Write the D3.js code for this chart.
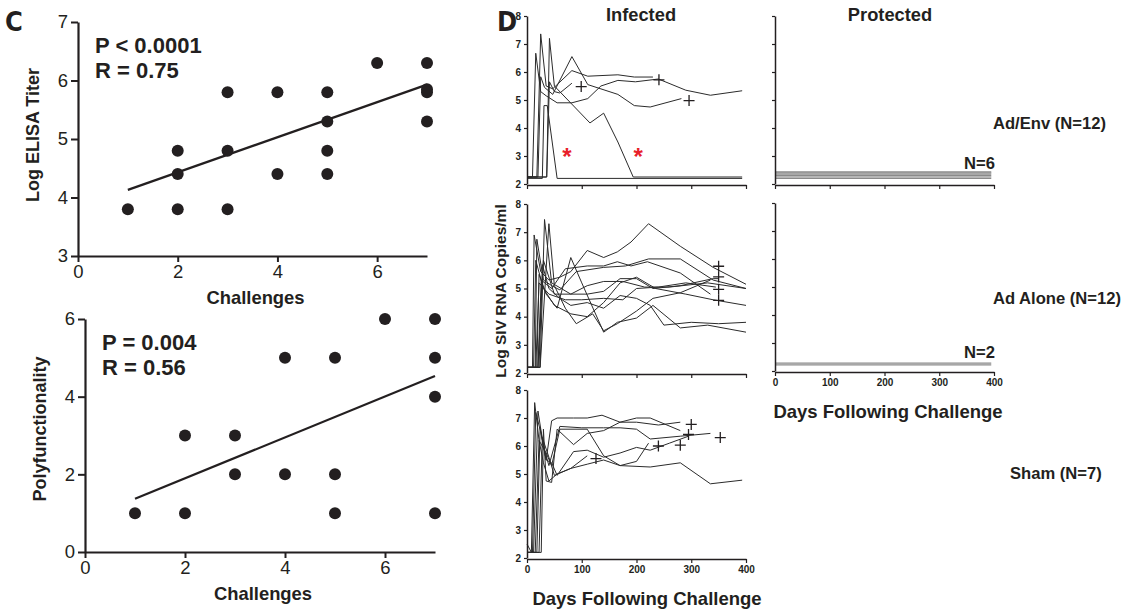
<!DOCTYPE html>
<html lang="en">
<head>
<meta charset="UTF-8">
<title>Challenges and viral load</title>
<script src="https://d3js.org/d3.v7.min.js"></script>
<style>
  body { margin: 0; background: #fff; }
  svg text { font-family: "Liberation Sans", Arial, sans-serif; fill: #231f20; }
  .bold { font-weight: bold; }
</style>
</head>
<body>
<div id="chart"></div>
<script>
// ---- panel C data: [challenges, value]
var elisaPoints = [[1,3.8],[2,4.8],[2,4.4],[2,3.8],[3,5.8],[3,4.8],[3,3.8],[4,5.8],[4,4.4],
  [5,5.8],[5,5.3],[5,4.8],[5,4.4],[6,6.3],[7,6.3],[7,5.85],[7,5.8],[7,5.3]];
var elisaFit = [[1,4.13],[7,5.93]];
var polyPoints = [[1,1],[2,3],[2,1],[3,3],[3,2],[4,5],[4,2],[5,5],[5,2],[5,1],[6,6],[7,6],[7,5],[7,4],[7,1]];
var polyFit = [[1,1.37],[7,4.53]];
var challengeTicks = [0,2,4,6];

// ---- panel D data: [day, log copies]
var adEnvInfected = [
  [[0,2.25],[10,2.25],[16,6.67],[25,5.3],[35,5.15],[55,4.9],[82,4.9],[111,5.05],[135,5.5],[166,5.7],[198,5.65],[240,5.75],[290,5.35],[335,5.17],[393,5.33]],
  [[0,2.25],[18,2.25],[25,7.36],[35,5.5],[47,5.4],[82,6.05],[111,5.85],[166,5.9],[196,5.82],[230,5.82]],
  [[0,2.25],[20,2.25],[25,5.83],[32,5.45],[47,5.2],[82,6.55],[111,5.55],[166,5.2],[196,4.8],[225,4.75],[282,5.05]],
  [[0,2.25],[36,2.25],[41,5.65],[50,5.3],[60,5.25],[82,5.6]],
  [[0,2.25],[36,2.25],[41,7.2],[50,5.5],[115,4.18],[140,4.53],[166,3.5],[194,2.25],[393,2.25]],
  [[0,2.2],[28,2.2],[31,4.8],[37,4.8],[55,2.2],[393,2.2]]
];
var adEnvCrosses = [[99,5.48],[241,5.72],[296,4.98]];
var adEnvStars = [[73,3.1],[203,3.1]];

var adAloneInfected = [
  [[0,2.2],[10,2.2],[13,6.9],[25,5.6],[40,5.3],[60,5.4],[80,5.6],[110,6.35],[140,6.1],[165,6.3],[190,6.65],[222,7.3],[280,6.5],[340,5.75],[400,5.15]],
  [[0,2.2],[15,2.2],[18,6.75],[30,5.3],[45,5.1],[60,4.95],[90,5.6],[140,5.75],[180,5.8],[222,6.05],[280,6.05],[340,5.3],[400,5.0]],
  [[0,2.2],[24,2.2],[32,7.45],[45,5.2],[80,4.8],[110,4.8],[140,4.9],[170,5.35],[200,5.35],[230,5.0],[280,5.1],[340,5.35],[350,5.35]],
  [[0,2.2],[24,2.2],[40,7.3],[50,5.1],[70,4.3],[90,3.75],[120,4.1],[140,3.5],[165,3.75],[200,4.2],[230,4.65],[280,4.85],[335,5.3]],
  [[0,2.2],[22,2.2],[28,5.85],[40,5.0],[60,4.65],[80,4.4],[110,4.5],[140,4.3],[170,4.75],[200,4.65],[225,4.4],[250,3.7],[300,3.8],[350,3.75],[400,3.8]],
  [[0,2.2],[18,2.2],[22,5.5],[35,4.8],[55,4.3],[80,6.1],[100,5.2],[140,3.45],[165,3.8],[200,3.95],[230,4.4],[280,3.6],[330,3.7],[400,3.45]],
  [[0,2.2],[12,2.2],[16,6.0],[30,5.0],[50,4.4],[80,4.1],[110,4.0],[140,4.5],[170,5.2],[200,5.4],[235,5.0],[290,4.8],[340,4.6],[400,4.4]],
  [[0,2.2],[20,2.2],[26,5.3],[45,5.0],[70,5.7],[110,5.8],[140,5.8],[165,5.95],[190,5.8],[220,5.95],[280,5.55],[335,4.8]],
  [[0,2.2],[16,2.2],[22,5.2],[40,4.8],[70,4.6],[100,4.6],[140,4.65],[175,4.6],[200,5.0],[240,5.05],[290,5.2],[345,5.05]],
  [[0,2.2],[20,2.2],[30,6.0],[50,4.8],[80,4.8],[110,5.1],[140,5.25],[175,5.25],[215,5.05],[260,5.05],[330,5.2],[400,5.0]]
];
var adAloneCrosses = [[350,5.79],[350,5.41],[350,4.97],[350,4.58]];

var shamInfected = [
  [[0,2.5],[8,2.2],[14,7.55],[22,6.2],[30,5.4],[40,4.75],[55,5.0],[80,5.2],[110,5.35],[140,5.5],[170,5.3],[225,5.25],[280,5.4],[335,4.65],[393,4.78]],
  [[0,2.2],[10,2.2],[16,7.2],[25,6.5],[35,5.5],[45,6.9],[55,7.0],[85,7.0],[110,7.0],[137,7.1],[170,6.85],[200,6.85],[240,6.75],[280,6.85]],
  [[0,2.2],[12,2.2],[20,7.25],[30,6.0],[40,5.3],[60,6.7],[100,6.65],[140,6.65],[170,6.65],[200,6.6],[225,6.25],[280,6.35],[335,6.45]],
  [[0,2.2],[26,2.2],[30,6.6],[35,4.75],[45,4.7],[55,6.6],[85,6.05],[110,6.45],[140,6.55],[170,6.85],[200,7.0],[225,7.0],[280,6.55]],
  [[0,2.2],[18,2.2],[24,6.65],[35,5.5],[45,5.4],[55,4.95],[85,5.8],[110,5.85],[140,5.6],[170,5.75],[200,5.95],[225,5.85],[260,6.1],[295,6.35]],
  [[0,2.2],[22,2.2],[28,6.3],[40,5.6],[50,4.95],[80,5.2],[110,5.65]],
  [[0,2.2],[15,2.2],[22,6.2],[35,5.75],[45,5.3],[60,6.6],[110,6.6],[140,5.65],[170,5.3],[200,5.45],[222,6.1]]
];
var shamCrosses = [[126,5.55],[240,6.0],[280,6.03],[295,6.41],[300,6.77],[353,6.3]];

var adEnvProtected = [2.2,2.25,2.3,2.35,2.4,2.43];
var adAloneProtected = [2.22,2.28];
var protectedEnd = 395;
var dayTicks = [0,100,200,300,400];
var logTicks = [2,3,4,5,6,7,8];

var svg = d3.select('#chart').append('svg')
  .attr('width', 1143).attr('height', 609);

// ---------- panel C ----------
function scatter(o) {
  var x = d3.scaleLinear().domain([0,7]).range([o.x0, o.x1]);
  var y = d3.scaleLinear().domain(o.yDomain).range([o.y0, o.y1]);
  var g = svg.append('g');

  var xa = g.append('g').attr('transform', 'translate(0,' + o.y0 + ')')
    .call(d3.axisBottom(x).tickValues(challengeTicks).tickFormat(d3.format('d'))
      .tickSize(6).tickPadding(3).tickSizeOuter(0));
  var ya = g.append('g').attr('transform', 'translate(' + o.x0 + ',0)')
    .call(d3.axisLeft(y).tickValues(o.yTicks).tickFormat(d3.format('d'))
      .tickSize(7).tickPadding(3).tickSizeOuter(0));
  [xa, ya].forEach(function(a) {
    a.select('.domain').attr('stroke', '#231f20').attr('stroke-width', 2.2);
    a.selectAll('.tick line').attr('stroke', '#231f20').attr('stroke-width', 2);
    a.selectAll('.tick text').style('font-size', '18.5px').attr('fill', '#231f20');
  });

  g.append('path').datum(o.fit)
    .attr('d', d3.line().x(function(d){ return x(d[0]); }).y(function(d){ return y(d[1]); }))
    .attr('stroke', '#231f20').attr('stroke-width', 2.2).attr('fill', 'none');

  g.selectAll('circle').data(o.points).enter().append('circle')
    .attr('cx', function(d){ return x(d[0]); })
    .attr('cy', function(d){ return y(d[1]); })
    .attr('r', 6).attr('fill', '#231f20');

  g.append('text').attr('class', 'bold').attr('x', o.statX).attr('y', o.statY)
    .style('font-size', '22px').text(o.stat1);
  g.append('text').attr('class', 'bold').attr('x', o.statX).attr('y', o.statY + 25)
    .style('font-size', '22px').text(o.stat2);

  g.append('text').attr('class', 'bold').attr('text-anchor', 'middle')
    .attr('x', (o.x0 + o.x1) / 2 + 3).attr('y', o.y0 + 48)
    .style('font-size', '18.4px').text('Challenges');
  g.append('text').attr('class', 'bold').attr('text-anchor', 'middle')
    .attr('transform', 'translate(' + o.yLabelX + ',' + o.yLabelY + ') rotate(-90)')
    .style('font-size', '18px').text(o.yLabel);
}

scatter({ x0: 78, x1: 427, y0: 256, y1: 22, yDomain: [3,7], yTicks: [3,4,5,6,7],
  points: elisaPoints, fit: elisaFit, stat1: 'P < 0.0001', stat2: 'R = 0.75',
  statX: 95, statY: 53, yLabel: 'Log ELISA Titer', yLabelX: 39, yLabelY: 135 });
scatter({ x0: 85, x1: 435, y0: 552, y1: 319, yDomain: [0,6], yTicks: [0,2,4,6],
  points: polyPoints, fit: polyFit, stat1: 'P = 0.004', stat2: 'R = 0.56',
  statX: 102, statY: 350, yLabel: 'Polyfunctionality', yLabelX: 46, yLabelY: 429 });

svg.append('text').attr('x', 5).attr('y', 31).attr('class', 'bold')
  .style('font-family', '"DejaVu Sans Condensed", "Liberation Sans Narrow", sans-serif')
  .style('font-stretch', 'condensed').style('font-size', '27px').text('C');
svg.append('text').attr('x', 497).attr('y', 31).attr('class', 'bold')
  .style('font-family', '"DejaVu Sans Condensed", "Liberation Sans Narrow", sans-serif')
  .style('font-stretch', 'condensed').style('font-size', '27px').text('D');

// ---------- panel D ----------
function timePanel(o) {
  var x = d3.scaleLinear().domain([0,400]).range([o.x0, o.x0 + 219]);
  var y = d3.scaleLinear().domain([2,8]).range([o.y0, o.y1]);
  var g = svg.append('g');
  var line = d3.line().x(function(d){ return x(d[0]); }).y(function(d){ return y(d[1]); });

  (o.levels || []).forEach(function(v) {
    g.append('path').datum([[0, v], [protectedEnd, v]]).attr('d', line)
      .attr('stroke', '#8a8a8a').attr('stroke-width', 1.2).attr('fill', 'none');
  });

  g.selectAll('path.animal').data(o.series || []).enter().append('path')
    .attr('class', 'animal').attr('d', line)
    .attr('stroke', '#2b2b2b').attr('stroke-width', 1).attr('fill', 'none');

  (o.crosses || []).forEach(function(c) {
    var cx = x(c[0]), cy = y(c[1]);
    g.append('path').attr('d', 'M' + (cx - 5.5) + ',' + cy + 'H' + (cx + 5.5) + 'M' + cx + ',' + (cy - 5.5) + 'V' + (cy + 5.5))
      .attr('stroke', '#231f20').attr('stroke-width', 1.3).attr('fill', 'none');
  });
  (o.stars || []).forEach(function(s) {
    g.append('text').attr('class', 'bold').attr('text-anchor', 'middle')
      .attr('x', x(s[0])).attr('y', y(s[1]) + 12)
      .style('font-size', '24px').style('fill', '#e8202a').text('*');
  });

  var xa = g.append('g').attr('transform', 'translate(0,' + (o.y0 + 1) + ')')
    .call(d3.axisBottom(x).tickValues(dayTicks).tickSize(4).tickPadding(3).tickSizeOuter(0));
  var ya = g.append('g').attr('transform', 'translate(' + o.x0 + ',0)')
    .call(d3.axisLeft(y).tickValues(logTicks).tickFormat(d3.format('d'))
      .tickSize(3).tickPadding(3).tickSizeOuter(0));
  [xa, ya].forEach(function(a) {
    a.select('.domain').attr('stroke', '#231f20').attr('stroke-width', 1.5);
    a.selectAll('.tick line').attr('stroke', '#231f20').attr('stroke-width', 1.2);
    a.selectAll('.tick text').style('font-weight', 'bold').style('font-size', '10px').attr('fill', '#231f20');
  });
  if (!o.xLabels) xa.selectAll('.tick text').remove();
  if (!o.yLabels) ya.selectAll('.tick text').remove();
  return g;
}

timePanel({ x0: 527, y0: 184, y1: 16, series: adEnvInfected, crosses: adEnvCrosses, stars: adEnvStars, yLabels: true });
timePanel({ x0: 527, y0: 373, y1: 204, series: adAloneInfected, crosses: adAloneCrosses, yLabels: true });
timePanel({ x0: 527, y0: 558, y1: 390, series: shamInfected, crosses: shamCrosses, yLabels: true, xLabels: true });
timePanel({ x0: 775, y0: 184, y1: 16, levels: adEnvProtected });
timePanel({ x0: 775, y0: 371, y1: 203, levels: adAloneProtected, xLabels: true });

function label(x, y, txt, size, anchor) {
  svg.append('text').style('font-weight', 'bold').attr('x', x).attr('y', y)
    .attr('text-anchor', anchor || 'start').style('font-size', size + 'px').text(txt);
}
label(641, 21, 'Infected', 18.3, 'middle');
label(890, 21, 'Protected', 18.3, 'middle');
label(993, 129, 'Ad/Env (N=12)', 16.6);
label(993, 304, 'Ad Alone (N=12)', 16.6);
label(1010, 479, 'Sham (N=7)', 16.6);
label(995, 169, 'N=6', 16.6, 'end');
label(995, 358, 'N=2', 16.6, 'end');
label(888, 418, 'Days Following Challenge', 18.5, 'middle');
label(647, 605, 'Days Following Challenge', 18.5, 'middle');
svg.append('text').style('font-weight', 'bold').attr('text-anchor', 'middle')
  .attr('transform', 'translate(506,291) rotate(-90)')
  .style('font-size', '15.5px').text('Log SIV RNA Copies/ml');
</script>
</body>
</html>
